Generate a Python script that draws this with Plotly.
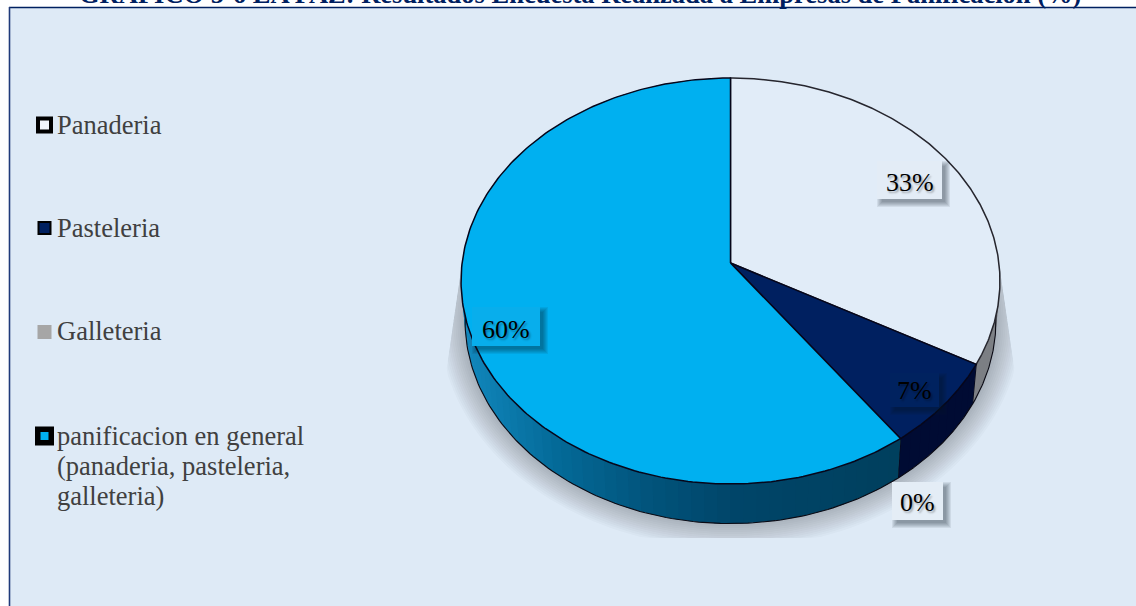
import numpy as np
import plotly.graph_objects as go

# Chart data
categories = ["Panaderia", "Pasteleria", "Galleteria", "panificacion en general"]
values = [33, 7, 0, 60]
title_text = "GRAFICO 5-6 LA PAZ: Resultados Encuesta Realizada a Empresas de Panificacion (%)"
legend_lines = [
    ["Panaderia"],
    ["Pasteleria"],
    ["Galleteria"],
    ["panificacion en general", "(panaderia, pasteleria,", "galleteria)"],
]

# Styles
top_colors = ["#E1ECF8", "#002060", "#A6A6A6", "#00B0F0"]
edge_colors = ["#26262E", "#06061A", "#26262E", "#06061A"]
side_colors = ["#7C7F84", "#000B33", "#6F6F6F", None]
legend_inner = ["#F2F6FB", "#002060", "#A6A6A6", "#00B0F0"]
legend_size = [13, 12, 14, 13.5]
legend_line = [4, 2, 0, 5.5]
legend_y = [125, 228, 332, 436]
legend_text_y = [125, 228, 331, 436]
label_boxes = [(877, 161, 942, 199), (890, 373, 939, 407), (892, 482, 943, 520), (472, 307, 540, 346)]
label_text_y = [182, 390, 502, 329]
label_fill = ["#E3ECF6", "#00225F", "#E4EDF6", "#08AEEC"]
PANEL = "#DEEAF6"
NAVY = "#002060"
SERIF = "Liberation Serif"

# Tilted-disc projection: a unit circle seen in perspective
CX, CY, RX, RY, PERSP, DEPTH = 730.5, 263.0, 268.4, 201.4, 0.0887, 40.0


def project(frac, depth=0.0):
    a = 2 * np.pi * np.asarray(frac, dtype=float)
    u, v = np.sin(a), np.cos(a)
    den = 1 + PERSP * v
    sx = 1 - 0.015 * depth / DEPTH
    sy = 1 - 0.002 * depth / DEPTH
    return CX + RX * sx * u / den, CY + depth - RY * sy * v / den


def lerp_hex(stops, x):
    xs = [p[0] for p in stops]
    rgb = [np.interp(x, xs, [p[1][i] for p in stops]) for i in range(3)]
    return "rgb(%d,%d,%d)" % tuple(int(c) for c in rgb)


# Rim colour of the largest slice, darkening from left to right
rim_stops = [(465, (18, 136, 190)), (560, (4, 106, 152)), (650, (2, 84, 124)),
             (730, (1, 70, 106)), (900, (0, 64, 94))]

fig = go.Figure()
total = float(sum(values))
edges = np.concatenate([[0], np.cumsum(values)]) / total

# Side wall of each slice, built from narrow strips
for i, _ in enumerate(values):
    f0, f1 = edges[i], edges[i + 1]
    if f1 <= f0:
        continue
    n = max(2, int((f1 - f0) * 140))
    ticks = np.linspace(f0, f1, n + 1)
    for a, b in zip(ticks[:-1], ticks[1:]):
        seg = np.linspace(a, min(b + 0.002, f1), 5)
        xt, yt = project(seg)
        xb, yb = project(seg, DEPTH)
        mid_x = float(project((a + b) / 2, DEPTH)[0])
        col = side_colors[i] or lerp_hex(rim_stops, mid_x)
        fig.add_trace(go.Scatter(
            x=np.r_[xt, xb[::-1]], y=np.r_[yt, yb[::-1]], mode="lines", fill="toself",
            fillcolor=col, line=dict(width=0), hoverinfo="skip", showlegend=False))
    # Lower rim line and the seam at the end of the slice
    seg = np.linspace(f0, f1, 200)
    xb, yb = project(seg, DEPTH)
    xe_t, ye_t = project(f1)
    fig.add_trace(go.Scatter(
        x=np.r_[xb, xe_t], y=np.r_[yb, ye_t], mode="lines",
        line=dict(color="#0A0A14", width=1.1), hoverinfo="skip", showlegend=False))

# Top face of each slice
for i, name in enumerate(categories):
    f0, f1 = edges[i], edges[i + 1]
    if f1 <= f0:
        continue
    xs, ys = project(np.linspace(f0, f1, 240))
    fig.add_trace(go.Scatter(
        x=np.r_[CX, xs, CX], y=np.r_[CY, ys, CY], mode="lines", fill="toself",
        fillcolor=top_colors[i], line=dict(color=edge_colors[i], width=1.5),
        name=name, hoverinfo="name", showlegend=False))

# Legend swatches
for i, name in enumerate(categories):
    fig.add_trace(go.Scatter(
        x=[44.5], y=[legend_y[i]], mode="markers", name=name, showlegend=False,
        hoverinfo="name",
        marker=dict(symbol="square", size=legend_size[i], color=legend_inner[i],
                    line=dict(color="#000000" if legend_line[i] else legend_inner[i],
                              width=legend_line[i]))))


def rect(x0, y0, x1, y1, fill, layer="above"):
    return dict(type="rect", xref="x", yref="y", x0=x0, y0=y0, x1=x1, y1=y1,
                fillcolor=fill, line=dict(width=0), layer=layer)


shapes = [rect(9, 7, 1136, 606, PANEL, "below")]
shapes.append(dict(type="line", xref="x", yref="y", x0=9, y0=7.5, x1=1136, y1=7.5,
                   line=dict(color=NAVY, width=1.6), layer="below"))
shapes.append(dict(type="line", xref="x", yref="y", x0=9.5, y0=7, x1=9.5, y1=606,
                   line=dict(color="#1F3A7A", width=1.6), layer="below"))

# Soft cast shadow beneath the disc, cut off by a flared box
theta = np.linspace(0, 2 * np.pi, 180, endpoint=False)
for grow in np.arange(24, -6, -2.0):
    ex = CX + (267 + grow) * np.sin(theta)
    ey = 321 + (203 + grow) * np.cos(theta)
    ey = np.clip(ey, 270, 538)
    flare = np.clip((ey - 270) / 110, 0, 1) * 16
    ex = np.clip(ex, 461 - flare, 1000 + flare)
    path = "M" + " L".join(f"{a:.1f},{b:.1f}" for a, b in zip(ex, ey)) + " Z"
    shapes.append(dict(type="path", xref="x", yref="y", path=path,
                       fillcolor="rgba(60,62,60,0.024)", line=dict(width=0), layer="below"))

# Label plates with a soft drop shadow
annotations = []
for i, box in enumerate(label_boxes):
    x0, y0, x1, y1 = box
    for g in range(5, -1, -1):
        shapes.append(rect(x0 + 5 - g, y0 + 5 - g, x1 + 3 + g, y1 + 3 + g, "rgba(10,20,40,0.08)"))
    shapes.append(rect(x0, y0, x1, y1, label_fill[i]))

for i, box in enumerate(label_boxes):
    x0, y0, x1, y1 = box
    annotations.append(dict(
        x=(x0 + x1) / 2, y=label_text_y[i], xref="x", yref="y", showarrow=False,
        text=f"{values[i]}%", xanchor="center", yanchor="middle",
        font=dict(family=SERIF, size=26, color="#000000",
                  shadow="1.5px 1.5px 2px rgba(0,0,0,0.3)")))

# Legend text, one annotation per line for tight leading
line_gap = 30
for i, lines in enumerate(legend_lines):
    for j, line in enumerate(lines):
        annotations.append(dict(
            x=57, y=legend_text_y[i] + j * line_gap, xref="x", yref="y", showarrow=False,
            text=line, xanchor="left", yanchor="middle", xshift=-2,
            font=dict(family=SERIF, size=26.5, color="#404040")))

# Title sits at the very top of the page
annotations.append(dict(
    x=0.5, y=1, xref="paper", yref="paper", showarrow=False, text=f"<b>{title_text}</b>",
    xanchor="center", yanchor="bottom", yshift=-11, xshift=12,
    font=dict(family=SERIF, size=26.5, color=NAVY)))

fig.update_layout(
    width=1136, height=606, margin=dict(l=0, r=0, t=0, b=0),
    paper_bgcolor="#FFFFFF", plot_bgcolor="rgba(0,0,0,0)",
    xaxis=dict(range=[0, 1136], visible=False, fixedrange=True),
    yaxis=dict(range=[606, 0], visible=False, fixedrange=True),
    shapes=shapes, annotations=annotations, showlegend=False,
)
fig.write_html("out.html", config=dict(displayModeBar=False))
